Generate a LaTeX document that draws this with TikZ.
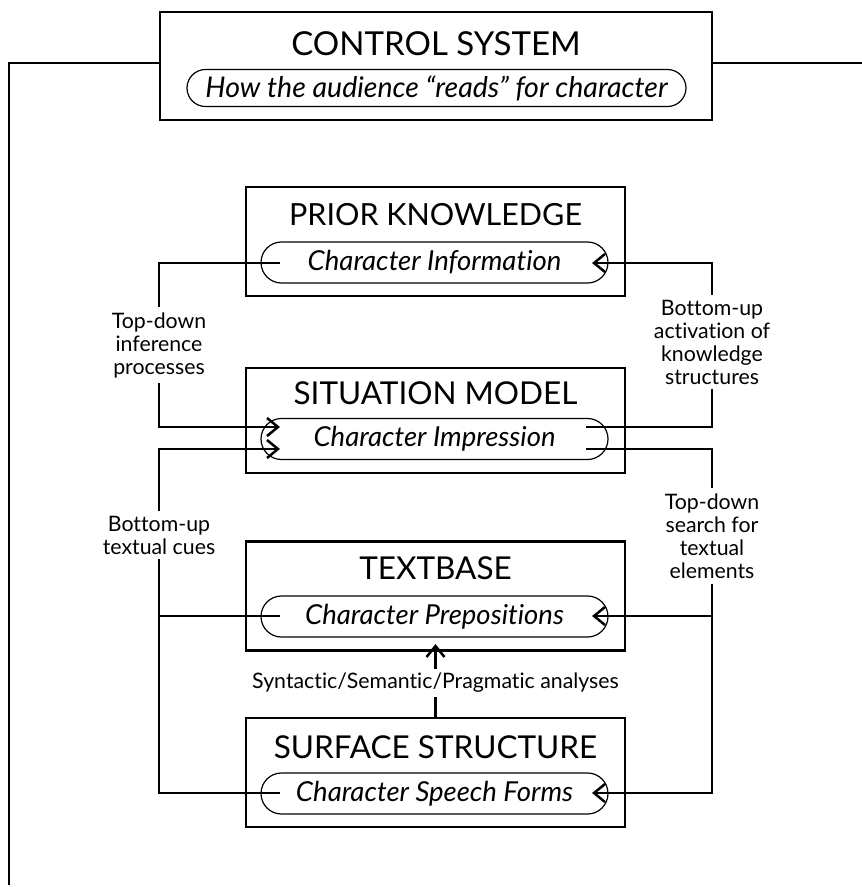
\documentclass[tikz,border=0pt]{standalone}
\usepackage{fontspec}
\setmainfont{Lato}[Ligatures=NoCommon]
\usetikzlibrary{arrows.meta,calc}
\begin{document}
\begin{tikzpicture}[x=1pt,y=-1pt,
  box/.style={draw, line width=2.8pt, minimum width=379pt, minimum height=109pt, inner sep=0pt},
  pill/.style={draw, line width=1.2pt, rounded corners=20.5pt, minimum width=347pt, minimum height=41pt, inner sep=0pt, font=\fontsize{27.5}{31}\selectfont\itshape},
  ttl/.style={font=\fontsize{31.5}{35}\selectfont, inner sep=0pt},
  lab/.style={font=\fontsize{21.3}{23}\selectfont, align=center, inner xsep=0pt, inner ysep=5pt},
  conn/.style={line width=2.7pt},
  tipleft/.pic={\draw[line width=2.5pt, line join=miter] (11,-9) -- (0,0) -- (11,9);},
  tipright/.pic={\draw[line width=2.5pt, line join=miter] (-11,-9) -- (0,0) -- (-11,9);},
  tipup/.pic={\draw[line width=2.5pt, line join=miter] (-9,11) -- (0,0) -- (9,11);}
]
\useasboundingbox (0,0) rectangle (862,887);

% Control system
\node[box, minimum width=552pt, minimum height=108pt] (cs) at (436,66) {};
\node[ttl, font=\fontsize{33}{36}\selectfont] (cst) at (436,44) {CONTROL SYSTEM};
\node[pill, minimum width=499pt, minimum height=37pt, rounded corners=18.5pt, font=\fontsize{28.5}{31}\selectfont\itshape] (csp) at (436.5,88) {How the audience “reads” for character};
\coordinate (csL) at (160,63);
\coordinate (csR) at (712,63);
\coordinate (outBL) at (9,885);
\coordinate (outR) at (862,63);
\draw[conn] (csL) -| (outBL);
\draw[conn] (csR) -- (outR);

% Prior knowledge
\node[box] (pk) at (435.5,241.5) {};
\node[ttl, font=\fontsize{30.5}{35}\selectfont] (pkt) at (435.5,215) {PRIOR KNOWLEDGE};
\node[pill] (pkp) at (434.5,262.5) {Character Information};

% Situation model
\node[box, minimum height=105pt] (sm) at (435.5,420.5) {};
\node[ttl] (smt) at (435.5,393.5) {SITUATION MODEL};
\node[pill] (smp) at (434.5,439) {Character Impression};

% Textbase
\node[box] (tb) at (435.5,596) {};
\node[ttl] (tbt) at (435.5,568) {TEXTBASE};
\node[pill] (tbp) at (434.5,616.5) {Character Prepositions};

% Surface structure
\node[box] (ss) at (435.5,772.5) {};
\node[ttl] (sst) at (435.5,747.5) {SURFACE STRUCTURE};
\node[pill] (ssp) at (434.5,793.5) {Character Speech Forms};

% connector end points inside pills
\coordinate (pkL) at (280,263);
\coordinate (pkR) at (594,263);
\coordinate (smL1) at (278,427);
\coordinate (smL2) at (278,449);
\coordinate (smR1) at (586,427);
\coordinate (smR2) at (586,449);
\coordinate (tbL) at (280,616);
\coordinate (tbR) at (594,616);
\coordinate (ssL) at (280,793);
\coordinate (ssR) at (594,793);
\coordinate (tbB) at (435.5,646);

% labels
\node[lab] (l1) at (159,345) {Top-down\\inference\\processes};
\node[lab] (r1) at (712,342) {Bottom-up\\activation of\\knowledge\\structures};
\node[lab] (l2) at (159,535) {Bottom-up\\textual cues};
\node[lab] (r2) at (712,536) {Top-down\\search for\\textual\\elements};
\node[lab, inner ysep=4pt] (mid) at (435.5,683) {Syntactic/Semantic/Pragmatic analyses};

% connectors
\draw[conn] (pkL) -| (l1.north);
\draw[conn] (l1.south) |- (smL1);
\draw[conn] (smR1) -| (r1.south);
\draw[conn] (r1.north) |- (pkR);
\draw[conn] (ssL) -| (l2.south);
\draw[conn] (l2.north) |- (smL2);
\draw[conn] (tbL) -- (tbL -| l2.south);
\draw[conn] (smR2) -| (r2.north);
\draw[conn] (r2.south) |- (ssR);
\draw[conn] (r2.south |- tbR) -- (tbR);
\draw[conn] (ss.north) -- (mid.south);
\draw[conn] (mid.north) -- (tbB);

% arrow heads
\pic at (pkR) {tipleft};
\pic at (tbR) {tipleft};
\pic at (ssR) {tipleft};
\pic at (smL1) {tipright};
\pic at (smL2) {tipright};
\pic at (tbB) {tipup};
\end{tikzpicture}
\end{document}
